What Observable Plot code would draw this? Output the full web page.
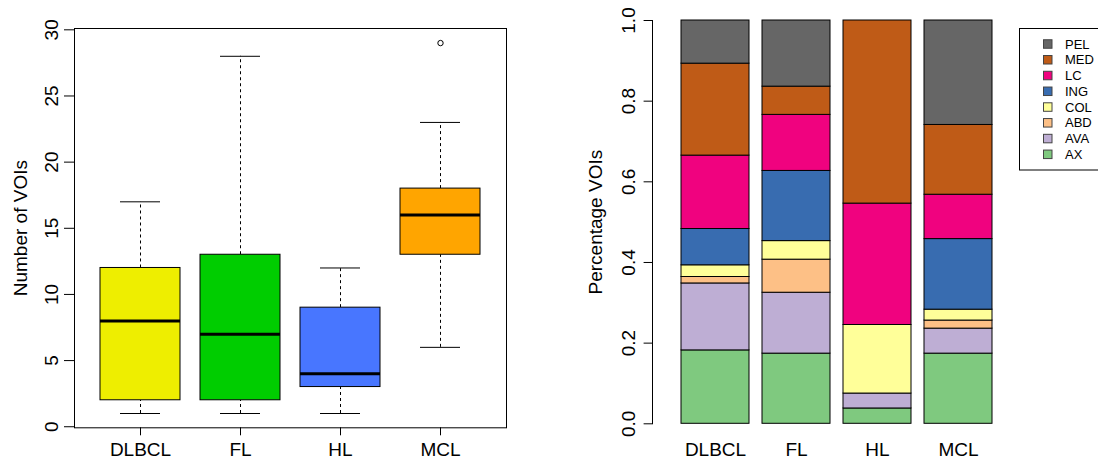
<!DOCTYPE html>
<html><head><meta charset="utf-8">
<script src="https://cdn.jsdelivr.net/npm/d3@7"></script>
<script src="https://cdn.jsdelivr.net/npm/@observablehq/plot@0.6"></script>
<style>
html,body{margin:0;padding:0;background:#fff;}
#wrap{position:relative;width:1098px;height:461px;overflow:hidden;font-family:"Liberation Sans",Arial,sans-serif;}
#left{position:absolute;left:0;top:0;}
#right{position:absolute;left:540px;top:0;}
#legend{position:absolute;left:1019px;top:28px;}
</style></head>
<body><div id="wrap"><div id="left"></div><div id="right"></div><div id="legend"></div></div>
<script>
// ---- Left panel: number of VOIs per lymphoma type (boxplot statistics)
const groups = ["DLBCL", "FL", "HL", "MCL"];
const whiskerLow = [1, 1, 1, 6];
const q1 = [2, 2, 3, 13];
const median = [8, 7, 4, 16];
const q3 = [12, 13, 9, 18];
const whiskerHigh = [17, 28, 12, 23];
const outlierGroup = ["MCL"];
const outlierValue = [29];
const boxColors = ["#EEEE00", "#00CD00", "#4876FF", "#FFA500"];
const countTicks = [0, 5, 10, 15, 20, 25, 30];

// ---- Right panel: share of VOIs per region (bottom to top)
const regions = ["AX", "AVA", "ABD", "COL", "ING", "LC", "MED", "PEL"];
const regionColors = ["#7FC97F", "#BEAED4", "#FDC086", "#FFFF99", "#386CB0", "#F0027F", "#BF5B17", "#666666"];
const shareDLBCL = [0.182, 0.166, 0.016, 0.029, 0.090, 0.182, 0.228, 0.107];
const shareFL    = [0.174, 0.151, 0.082, 0.046, 0.174, 0.139, 0.070, 0.164];
const shareHL    = [0.038, 0.037, 0.000, 0.170, 0.000, 0.301, 0.454, 0.000];
const shareMCL   = [0.174, 0.062, 0.020, 0.027, 0.175, 0.110, 0.173, 0.259];
const shareTicks = [0, 0.2, 0.4, 0.6, 0.8, 1.0];

const font = '"Liberation Sans", Arial, sans-serif';

const boxes = groups.map((g, i) => ({
  group: g, pos: i + 1, lo: whiskerLow[i], q1: q1[i], med: median[i],
  q3: q3[i], hi: whiskerHigh[i], color: boxColors[i]
}));
const outliers = outlierGroup.map((g, i) => ({pos: groups.indexOf(g) + 1, value: outlierValue[i]}));

const left = Plot.plot({
  width: 540, height: 461,
  marginLeft: 74, marginRight: 34, marginTop: 28, marginBottom: 33.7,
  style: {fontFamily: font, fontSize: "19px", color: "#000", background: "transparent"},
  x: {domain: [0.34, 4.66]},
  y: {domain: [-0.08, 30.1]},
  color: {type: "identity"},
  marks: [
    Plot.ruleX(boxes, {x: "pos", y1: "q3", y2: "hi", stroke: "#000", strokeDasharray: "3,3"}),
    Plot.ruleX(boxes, {x: "pos", y1: "lo", y2: "q1", stroke: "#000", strokeDasharray: "3,3"}),
    Plot.ruleY(boxes, {y: "hi", x1: d => d.pos - 0.2, x2: d => d.pos + 0.2, stroke: "#000"}),
    Plot.ruleY(boxes, {y: "lo", x1: d => d.pos - 0.2, x2: d => d.pos + 0.2, stroke: "#000"}),
    Plot.rect(boxes, {x1: d => d.pos - 0.4, x2: d => d.pos + 0.4, y1: "q1", y2: "q3", fill: d => d.color, stroke: "#000"}),
    Plot.ruleY(boxes, {y: "med", x1: d => d.pos - 0.4, x2: d => d.pos + 0.4, stroke: "#000", strokeWidth: 3}),
    Plot.dot(outliers, {x: "pos", y: "value", r: 2.7, stroke: "#000", strokeWidth: 1, fill: "none"}),
    Plot.frame({stroke: "#000"}),
    Plot.axisY({ticks: countTicks, tickRotate: -90, tickSize: 10, tickPadding: 7, label: null}),
    Plot.text(["Number of VOIs"], {frameAnchor: "left", rotate: -90, dx: -61.3,
      textAnchor: "middle", lineAnchor: "top", fill: "#000"}),
    Plot.axisX({ticks: groups.map((g, i) => i + 1), tickFormat: d => groups[d - 1],
      tickSize: 8, tickPadding: 6.7, label: null})
  ]
});
document.getElementById("left").appendChild(left);

const shareArrays = [shareDLBCL, shareFL, shareHL, shareMCL];
const rows = groups.flatMap((g, gi) => regions.map((r, ri) => ({group: g, region: r, share: shareArrays[gi][ri]})));

const right = Plot.plot({
  width: 558, height: 461,
  marginLeft: 112, marginRight: 80, marginTop: 20, marginBottom: 37.7,
  style: {fontFamily: font, fontSize: "19px", color: "#000", background: "transparent"},
  x: {domain: groups, range: [140.7, 451.7], paddingInner: 1 / 6, paddingOuter: 0},
  y: {domain: [0, 1]},
  color: {domain: regions, range: regionColors},
  marks: [
    Plot.barY(rows, {x: "group", y: "share", fill: "region", stroke: "#000", strokeWidth: 1}),
    Plot.frame({anchor: "left", stroke: "#000"}),
    Plot.axisY({ticks: shareTicks, tickFormat: d3.format(".1f"), tickRotate: -90, tickSize: 8.4, tickPadding: 9.3, label: null}),
    Plot.text(["Percentage VOIs"], {frameAnchor: "left", rotate: -90, dx: -63.7,
      textAnchor: "middle", lineAnchor: "top", fill: "#000"}),
    Plot.axisX({tickSize: 0, tickPadding: 18.4, label: null})
  ]
});
document.getElementById("right").appendChild(right);

// ---- Legend (top to bottom: PEL ... AX)
const lg = d3.select("#legend").append("svg").attr("width", 79).attr("height", 144)
  .style("font-family", font).style("display", "block");
lg.append("rect").attr("x", 0.5).attr("y", 0.5).attr("width", 100).attr("height", 141.5)
  .attr("fill", "#fff").attr("stroke", "#000");
const legendItems = regions.map((r, i) => ({r, c: regionColors[i]})).reverse();
const row = lg.selectAll("g").data(legendItems).join("g")
  .attr("transform", (d, i) => `translate(0,${16 + i * 15.76})`);
row.append("rect").attr("x", 24.5).attr("y", -4.25).attr("width", 8.5).attr("height", 8.5)
  .attr("fill", d => d.c).attr("stroke", "#444");
row.append("text").attr("x", 46).attr("dy", "0.35em").attr("font-size", 13).attr("fill", "#000").text(d => d.r);
</script>
</body></html>
